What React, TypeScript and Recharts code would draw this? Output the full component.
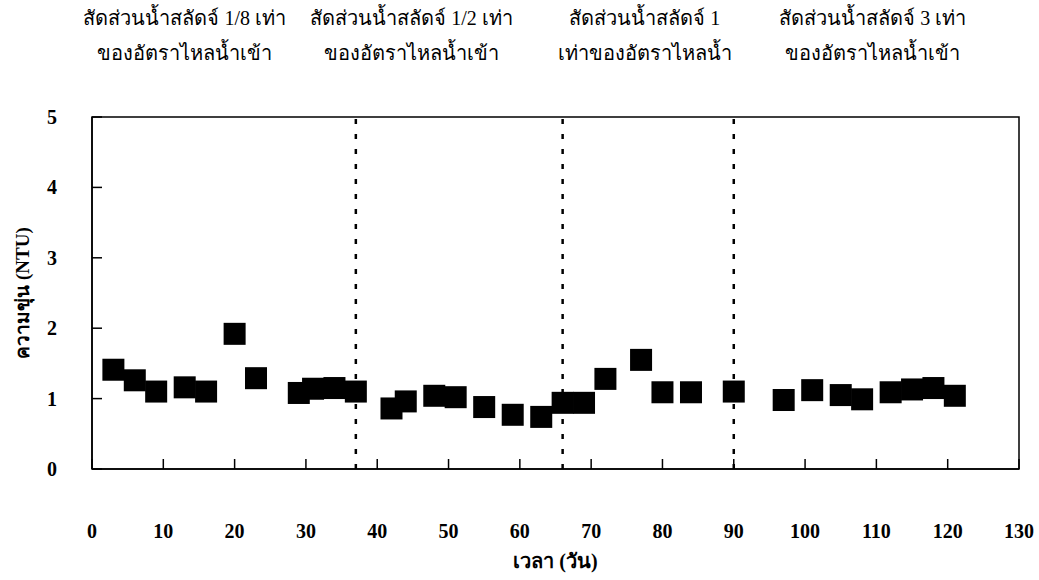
import React from 'react';
import {
  ScatterChart,
  Scatter,
  XAxis,
  YAxis,
  ReferenceLine,
  ReferenceArea,
  Label,
} from 'recharts';

// ---- data ----
const days = [3, 6, 9, 13, 16, 20, 23, 29, 31, 34, 37, 42, 44, 48, 51, 55, 59, 63, 66, 69, 72, 77, 80, 84, 90, 97, 101, 105, 108, 112, 115, 118, 121];
const turbidity = [1.41, 1.26, 1.10, 1.16, 1.10, 1.92, 1.29, 1.08, 1.14, 1.15, 1.10, 0.86, 0.96, 1.04, 1.02, 0.88, 0.77, 0.74, 0.94, 0.94, 1.28, 1.55, 1.09, 1.09, 1.10, 0.98, 1.12, 1.05, 0.99, 1.09, 1.13, 1.15, 1.04];
const xTicks = [0, 10, 20, 30, 40, 50, 60, 70, 80, 90, 100, 110, 120, 130];
const yTicks = [0, 1, 2, 3, 4, 5];
const phaseBoundaries = [37, 66, 90];
const phaseCenters = [13, 44.8, 77.5, 109.5];
const phaseLine1 = ['สัดส่วนน้ำสลัดจ์ 1/8 เท่า', 'สัดส่วนน้ำสลัดจ์ 1/2 เท่า', 'สัดส่วนน้ำสลัดจ์ 1', 'สัดส่วนน้ำสลัดจ์ 3 เท่า'];
const phaseLine2 = ['ของอัตราไหลน้ำเข้า', 'ของอัตราไหลน้ำเข้า', 'เท่าของอัตราไหลน้ำ', 'ของอัตราไหลน้ำเข้า'];
const xTitle = 'เวลา (วัน)';
const yTitle = 'ความขุ่น (NTU)';

const data = days.map((d, i) => ({ x: d, y: turbidity[i] }));

const FONT = "'Liberation Serif', 'Times New Roman', 'DejaVu Serif', serif";

const XTick = (props: any) => {
  const { x, y, payload } = props;
  return (
    <g>
      <line x1={x} y1={y} x2={x} y2={y - 10} stroke="#000" strokeWidth={1.5} />
      <text x={x} y={y + 62} textAnchor="middle" dominantBaseline="central" fontFamily={FONT} fontWeight="bold" fontSize={20} fill="#000">
        {payload.value}
      </text>
    </g>
  );
};

const YTick = (props: any) => {
  const { x, y, payload } = props;
  return (
    <g>
      <line x1={x} y1={y} x2={x + 10} y2={y} stroke="#000" strokeWidth={1.5} />
      <text x={x - 40} y={y} textAnchor="middle" dominantBaseline="central" fontFamily={FONT} fontWeight="bold" fontSize={20} fill="#000">
        {payload.value}
      </text>
    </g>
  );
};

const Square = (props: any) => {
  const { cx, cy } = props;
  return <rect x={cx - 11} y={cy - 11} width={22} height={22} fill="#000" />;
};

const makeAnnot = (i: number) => (props: any) => {
  const vb = props.viewBox || {};
  const x = vb.x ?? 0;
  const top = vb.y ?? 0;
  return (
    <g>
      <text x={x} y={top - 92} textAnchor="middle" fontFamily={FONT} fontSize={20} fill="#000">
        {phaseLine1[i]}
      </text>
      <text x={x} y={top - 57} textAnchor="middle" fontFamily={FONT} fontSize={20} fill="#000">
        {phaseLine2[i]}
      </text>
    </g>
  );
};

const YTitle = (props: any) => {
  const vb = props.viewBox || {};
  const cx = 22;
  const cy = (vb.y ?? 0) + (vb.height ?? 0) / 2;
  return (
    <text
      x={cx}
      y={cy}
      transform={`rotate(-90, ${cx}, ${cy})`}
      textAnchor="middle"
      dominantBaseline="central"
      fontFamily={FONT}
      fontWeight="bold"
      fontSize={19}
      fill="#000"
    >
      {yTitle}
    </text>
  );
};

export default function App() {
  return (
    <div style={{ position: 'absolute', left: 0, top: 0, width: 1039, height: 580, background: '#fff' }}>
      <ScatterChart width={1039} height={580} margin={{ top: 117, right: 20, bottom: 0, left: 0 }}>
        <XAxis
          type="number"
          dataKey="x"
          domain={[0, 130]}
          ticks={xTicks}
          interval={0}
          allowDataOverflow
          height={111}
          tickSize={0}
          tickMargin={0}
          tickLine={false}
          tick={<XTick />}
          axisLine={{ stroke: '#000', strokeWidth: 1.5 }}
        >
          <Label
            value={xTitle}
            position="insideBottom"
            offset={12}
            style={{ fontFamily: FONT, fontWeight: 'bold', fontSize: 20, fill: '#000' }}
          />
        </XAxis>
        <YAxis
          type="number"
          dataKey="y"
          domain={[0, 5]}
          ticks={yTicks}
          interval={0}
          allowDataOverflow
          width={92}
          tickSize={0}
          tickMargin={0}
          tickLine={false}
          tick={<YTick />}
          axisLine={{ stroke: '#000', strokeWidth: 1.5 }}
        >
          <Label content={<YTitle />} />
        </YAxis>
        <ReferenceArea x1={0} x2={130} y1={0} y2={5} fill="none" stroke="#000" strokeWidth={1.5} fillOpacity={0} />
        {phaseBoundaries.map((b) => (
          <ReferenceLine key={'b' + b} x={b} stroke="#000" strokeWidth={2.5} strokeDasharray="5 10" />
        ))}
        {phaseCenters.map((c, i) => (
          <ReferenceLine key={'c' + i} x={c} stroke="none" label={makeAnnot(i)} />
        ))}
        <Scatter data={data} shape={<Square />} isAnimationActive={false} fill="#000" />
      </ScatterChart>
    </div>
  );
}
